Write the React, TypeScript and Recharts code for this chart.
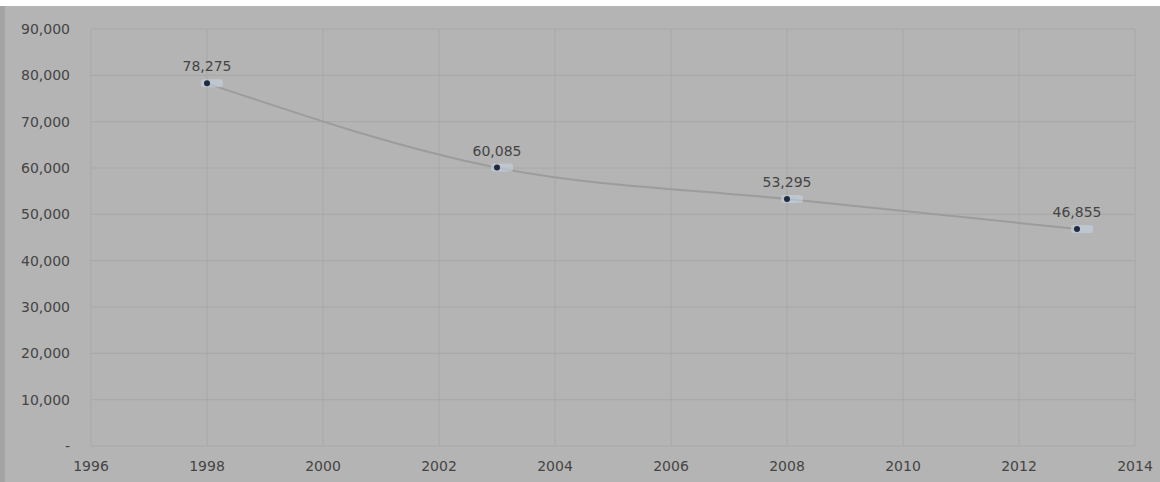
import React from 'react';
import { LineChart, Line, XAxis, YAxis, CartesianGrid, LabelList } from 'recharts';

const years = [1998, 2003, 2008, 2013];
const values = [78275, 60085, 53295, 46855];
const xTicks = [1996, 1998, 2000, 2002, 2004, 2006, 2008, 2010, 2012, 2014];
const yTicks = [0, 10000, 20000, 30000, 40000, 50000, 60000, 70000, 80000, 90000];

const data = years.map((year, i) => ({ year, value: values[i] }));

const fmt = (v: number) => (v === 0 ? '-' : v.toLocaleString('en-US'));

// dark marker with the faint blue smear seen next to each point
const PointDot: React.FC<any> = ({ cx, cy }) => {
  if (cx == null || cy == null) return null;
  return (
    <g>
      <rect x={cx - 6} y={cy - 4} width={22} height={8} rx={3} fill="#c6d6e6" opacity={0.55} />
      <circle cx={cx} cy={cy} r={3} fill="#1e2a40" />
    </g>
  );
};

const App: React.FC = () => {
  return (
    <div style={{ position: 'absolute', left: 0, top: 0, width: 1160, height: 482, background: '#fff', fontFamily: '"DejaVu Sans", sans-serif' }}>
      <div style={{ position: 'absolute', left: 0, top: 6, width: 1160, height: 476, background: '#b4b4b4', borderLeft: '5px solid #a4a4a4', boxSizing: 'border-box' }} />
      <div style={{ position: 'absolute', left: 0, top: 6 }}>
        <LineChart width={1160} height={476} data={data} margin={{ top: 23, right: 25, left: 0, bottom: 0 }}>
          <CartesianGrid stroke="#a8a8a8" strokeWidth={1} />
          <XAxis
            dataKey="year"
            type="number"
            domain={[1996, 2014]}
            ticks={xTicks}
            height={36}
            axisLine={false}
            tickLine={false}
            tickSize={0}
            tickMargin={15}
            tick={{ fontSize: 14, fill: '#444' }}
          />
          <YAxis
            type="number"
            domain={[0, 90000]}
            ticks={yTicks}
            width={91}
            axisLine={false}
            tickLine={false}
            tickSize={0}
            tickMargin={21}
            tickFormatter={fmt}
            tick={{ fontSize: 14, fill: '#444' }}
          />
          <Line
            type="monotone"
            dataKey="value"
            stroke="#9c9c9c"
            strokeWidth={2}
            dot={<PointDot />}
            activeDot={false}
            isAnimationActive={false}
          >
            <LabelList dataKey="value" position="top" offset={12} formatter={(v: any) => fmt(Number(v))} style={{ fontSize: 14, fill: '#444' }} />
          </Line>
        </LineChart>
      </div>
    </div>
  );
};

export default App;
